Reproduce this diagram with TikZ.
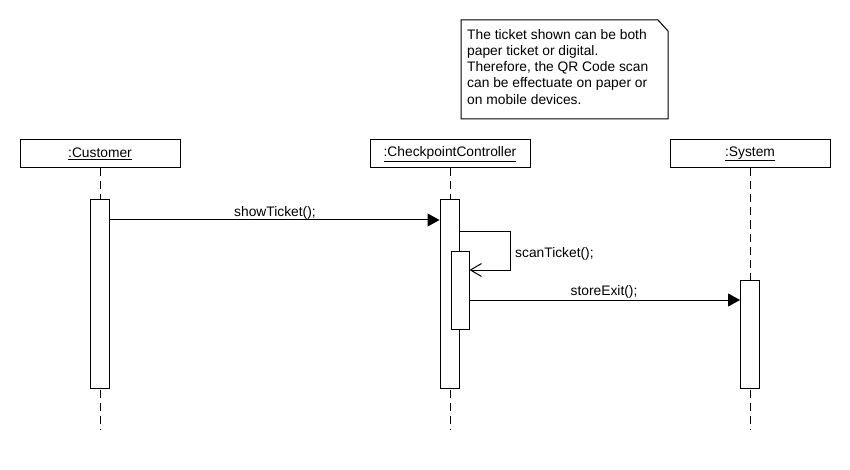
\documentclass[tikz,border=0pt]{standalone}
\usepackage{fontspec}
\setmainfont{Liberation Sans}
\usetikzlibrary{arrows.meta}
\begin{document}
\begin{tikzpicture}[x=1pt,y=-1pt,
  every node/.style={font=\fontsize{13.8}{16.1}\selectfont},
  objbox/.style={draw,line width=1pt,fill=white,minimum width=160pt,minimum height=28pt,inner sep=0pt},
  act/.style={draw,line width=1pt,fill=white,minimum width=19pt,inner sep=0pt},
  lifeline/.style={line width=1pt,dash pattern=on 8pt off 5pt},
  msg/.style={line width=1pt,-{Triangle[length=12pt,width=13pt]}},
  selfmsg/.style={line width=1pt,-{Straight Barb[length=11pt,width=13pt,line width=1pt]}},
  lbl/.style={anchor=base,inner sep=0pt}]
\useasboundingbox (0,0) rectangle (850,470);
% note
\draw[line width=1pt,fill=white] (461,20) -- (658,20) -- (668,31) -- (668,119) -- (461,119) -- cycle;
\node[anchor=north west,inner sep=0pt,align=left] (note) at (467,29.5)
  {The ticket shown can be both\\paper ticket or digital.\\Therefore, the QR Code scan\\can be effectuate on paper or\\on mobile devices.};
% objects
\node[objbox] (cust) at (100,154) {\underline{:Customer}};
\node[objbox] (ctrl) at (450,154) {\underline{:CheckpointController}};
\node[objbox] (sys) at (750,154) {\underline{:System}};
\coordinate (custend) at (100,430);
\coordinate (ctrlend) at (450,430);
\coordinate (sysend) at (750,430);
\draw[lifeline] (cust.south) -- (custend);
\draw[lifeline] (ctrl.south) -- (ctrlend);
\draw[lifeline] (sys.south) -- (sysend);
% activations
\node[act,minimum height=188pt] (aC) at (99.5,294) {};
\node[act,minimum height=188pt] (aK) at (449.5,294) {};
\node[act,minimum height=78pt,minimum width=18pt] (aK2) at (460,290) {};
\node[act,minimum height=108pt] (aS) at (750,334) {};
% messages
\coordinate (m1) at (0,220);
\coordinate (m2) at (0,231);
\coordinate (m2r) at (510,231);
\coordinate (m2b) at (510,270);
\coordinate (m3) at (0,270);
\coordinate (m4) at (0,300);
\draw[msg] (aC.east |- m1) -- (aK.west |- m1);
\node[lbl] (l1) at (275,216.5) {showTicket();};
\draw[selfmsg] (aK.east |- m2) -- (m2r) -- (m2b) -- (aK2.east |- m3);
\node[lbl,anchor=base west] (l2) at (515,257) {scanTicket();};
\draw[msg] (aK2.east |- m4) -- (aS.west |- m4);
\node[lbl] (l3) at (604,295.5) {storeExit();};
\end{tikzpicture}
\end{document}
